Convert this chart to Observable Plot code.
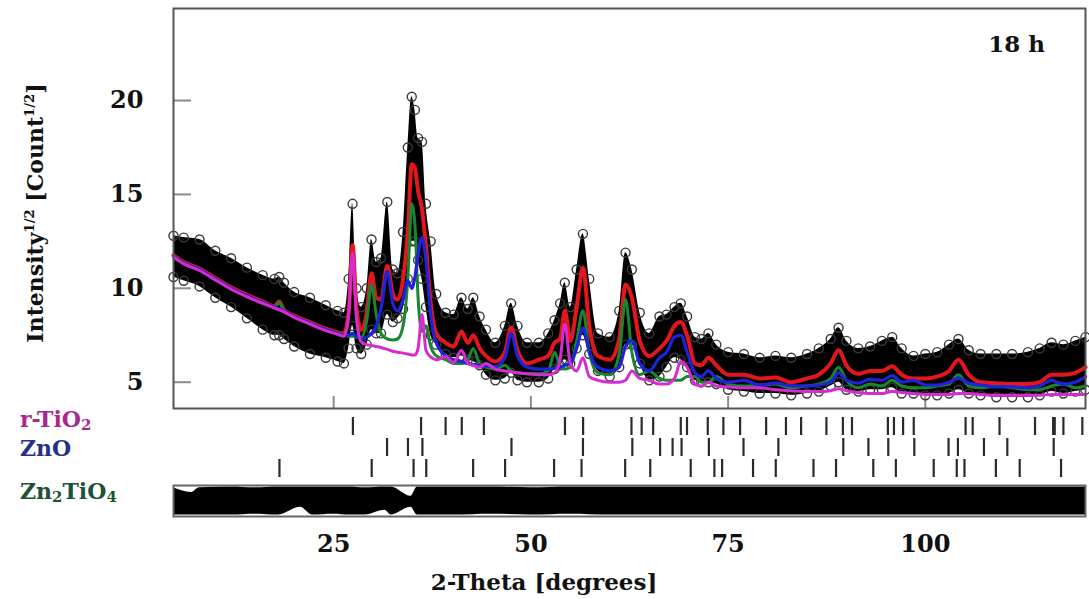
<!DOCTYPE html>
<html>
<head>
<meta charset="utf-8">
<script src="https://cdn.jsdelivr.net/npm/d3@7"></script>
<script src="https://cdn.jsdelivr.net/npm/@observablehq/plot@0.6"></script>
<style>
  html, body { margin: 0; padding: 0; background: #fff; }
  #wrap { position: relative; width: 1089px; height: 599px; overflow: hidden; font-family: "DejaVu Serif", serif; background: #fff; }
  #wrap svg { position: absolute; left: 0; overflow: visible; }
  .lab { position: absolute; white-space: nowrap; font-weight: bold; }
  .lab sub { font-size: 0.68em; vertical-align: -0.22em; line-height: 0; }
  .lab sup { font-size: 0.6em; vertical-align: 0.7em; line-height: 0; }
</style>
</head>
<body>
<div id="wrap">
  <div class="lab" id="ylab" style="left:-165px; top:198px; width:400px; line-height:30px; text-align:center; font-size:22px; color:#111; transform:rotate(-90deg);">Intensity<sup>1/2</sup> [Count<sup>1/2</sup>]</div>
  <div class="lab" id="xlab" style="left:344px; top:568px; width:400px; line-height:28px; text-align:center; font-size:23px; color:#111;">2-Theta [degrees]</div>
  <div class="lab" style="left:20px; top:408px; line-height:22px; font-size:22px; color:#a8288f;">r-TiO<sub>2</sub></div>
  <div class="lab" style="left:20px; top:437px; line-height:22px; font-size:22px; color:#22318a;">ZnO</div>
  <div class="lab" style="left:20px; top:480px; line-height:22px; font-size:22px; color:#1d5236;">Zn<sub>2</sub>TiO<sub>4</sub></div>
</div>
<script>
// ---- data ----
const twoTheta = [
  4.7, 6, 8, 10, 12, 14, 16, 17.5, 18.1, 18.7,
  20, 22, 24, 25.5, 26.3, 26.9, 27.4, 27.9, 28.5, 29.2,
  29.8, 30.4, 31.0, 31.8, 32.5, 33.1, 33.8, 34.4, 34.9, 35.3,
  35.7, 36.2, 36.7, 37.3, 38.0, 39.2, 40.2, 41.2, 42.0, 42.7,
  43.5, 44.3, 45.5, 46.7, 47.5, 48.3, 49.5, 51.0, 52.2, 53.0,
  53.7, 54.3, 55.0, 55.8, 56.6, 57.4, 58.5, 60.0, 61.2, 62.0,
  62.8, 63.8, 65.0, 66.3, 67.2, 68.2, 69.0, 69.8, 70.8, 71.6,
  72.5, 73.5, 75.0, 77.0, 79.0, 81.0, 83.0, 85.0, 86.5, 88.0,
  89.0, 90.0, 91.5, 93.0, 94.5, 95.8, 97.0, 98.5, 100.0, 101.5,
  103.0, 104.2, 105.5, 107.0, 109.0, 111.0, 113.0, 114.5, 116.0, 117.5, 119.0, 120.3
];
// observed data: upper and lower edge of the black point cloud
const obsHigh = [
  12.8, 12.7, 12.6, 12.0, 11.6, 11.1, 10.7, 10.5, 10.6, 10.3,
  9.8, 9.5, 9.1, 8.8, 8.7, 10.5, 14.5, 10.0, 9.0, 10.0,
  12.6, 11.4, 11.6, 14.6, 11.0, 10.8, 13.0, 17.5, 20.2, 19.5,
  18.0, 17.8, 14.5, 12.5, 9.7, 8.7, 8.6, 9.5, 8.9, 9.5,
  8.5, 7.8, 7.1, 8.0, 9.2, 8.0, 7.1, 7.1, 7.6, 8.3,
  9.2, 10.3, 9.0, 11.0, 12.9, 10.5, 7.6, 7.4, 8.8, 11.9,
  11.0, 8.7, 7.6, 8.5, 8.6, 9.0, 9.2, 8.5, 7.4, 7.3,
  7.6, 7.0, 6.6, 6.5, 6.3, 6.4, 6.3, 6.5, 6.8, 7.3,
  7.9, 7.2, 6.8, 6.9, 7.2, 7.4, 6.8, 6.4, 6.5, 6.6,
  7.0, 7.3, 6.7, 6.5, 6.5, 6.5, 6.6, 6.8, 7.1, 7.0, 7.2, 7.4
];
const obsLow = [
  10.6, 10.4, 10.1, 9.5, 9.0, 8.4, 7.8, 7.5, 7.5, 7.3,
  6.9, 6.5, 6.3, 6.1, 6.0, 6.8, 8.0, 6.8, 6.5, 7.0,
  7.8, 7.6, 7.6, 8.6, 8.2, 8.4, 8.9, 10.5, 12.5, 12.5,
  11.5, 10.5, 9.0, 7.5, 7.0, 6.5, 6.3, 6.4, 6.2, 6.1,
  5.9, 5.4, 5.1, 5.2, 5.5, 5.1, 5.0, 5.0, 5.2, 5.7,
  5.9, 6.2, 6.0, 6.8, 7.5, 6.5, 5.6, 5.3, 5.8, 7.0,
  7.0, 6.0, 5.1, 5.3, 5.8, 6.3, 6.2, 5.8, 5.1, 5.0,
  5.0, 4.9, 4.6, 4.5, 4.4, 4.4, 4.3, 4.4, 4.5, 4.8,
  5.0, 4.6, 4.5, 4.6, 4.6, 4.7, 4.4, 4.4, 4.3, 4.3,
  4.4, 4.6, 4.4, 4.3, 4.2, 4.2, 4.2, 4.3, 4.5, 4.4, 4.5, 4.6
];
// calculated total profile (red)
const calcTotal = [
  11.75, 11.4, 11.05, 10.55, 10.05, 9.65, 9.3, 9.05, 9.3, 8.85,
  8.55, 8.2, 7.85, 7.65, 7.6, 8.7, 12.3, 8.9, 7.8, 8.7,
  10.8, 9.5, 9.4, 11.2, 9.7, 9.4, 10.5, 13.0, 16.6, 16.4,
  15.2, 14.2, 12.2, 9.2, 7.6, 7.1, 6.9, 7.7, 7.1, 7.5,
  6.8, 6.4, 6.1, 6.6, 7.9, 6.7, 6.0, 6.2, 6.4, 7.1,
  7.3, 8.8, 7.2, 9.0, 11.1, 8.0, 6.4, 6.2, 7.3, 10.2,
  9.5, 7.2, 6.4, 6.8, 7.2, 8.0, 8.2, 7.5, 6.0, 5.9,
  6.3, 5.9, 5.4, 5.4, 5.2, 5.25, 5.0, 5.2, 5.4, 6.0,
  6.7, 5.9, 5.45, 5.6, 5.6, 5.85, 5.4, 5.2, 5.2, 5.3,
  5.6, 6.2, 5.4, 5.0, 4.95, 4.9, 4.9, 5.0, 5.4, 5.4, 5.5, 5.8
];
// Zn2TiO4 phase + background (green)
const zn2tio4Calc = [
  11.7, 11.35, 11.0, 10.5, 10.0, 9.6, 9.25, 9.0, 9.25, 8.8,
  8.5, 8.15, 7.8, 7.6, 7.5, 7.45, 7.45, 7.4, 7.4, 8.3,
  10.2, 8.6, 7.6, 7.3, 7.25, 7.3, 8.0, 10.5, 14.5, 13.4,
  9.5, 7.7, 8.0, 6.9, 6.4, 6.2, 6.0, 6.0, 6.2, 6.8,
  6.0, 5.8, 5.7, 5.9, 5.6, 5.5, 5.45, 5.45, 5.6, 6.6,
  5.9, 5.7, 5.8, 7.2, 8.8, 6.6, 5.5, 5.4, 6.5, 9.4,
  6.6, 5.4, 5.6, 5.2, 5.1, 5.1, 5.1, 5.3, 5.3, 5.0,
  5.0, 5.3, 4.9, 4.8, 4.85, 4.9, 4.7, 4.8, 4.9, 5.2,
  5.8, 5.1, 4.7, 4.9, 4.8, 5.1, 4.8, 4.7, 4.7, 4.8,
  4.9, 5.4, 4.8, 4.7, 4.8, 4.7, 4.6, 4.6, 4.8, 4.9, 4.7, 4.8
];
// ZnO phase + background (blue)
const znoCalc = [
  11.7, 11.35, 11.0, 10.5, 10.0, 9.6, 9.25, 9.0, 8.9, 8.8,
  8.5, 8.15, 7.8, 7.6, 7.5, 7.5, 7.6, 7.45, 7.3, 7.4,
  7.6, 8.0, 8.9, 10.9, 9.2, 8.8, 9.4, 10.4, 10.0, 10.6,
  11.8, 12.7, 11.5, 8.6, 7.1, 6.4, 6.2, 6.1, 6.0, 5.95,
  5.9, 5.85, 5.85, 6.3, 7.6, 6.4, 5.8, 5.7, 5.7, 5.75,
  5.8, 5.9, 6.0, 6.8, 7.9, 6.6, 5.8, 5.6, 5.8, 6.9,
  7.2, 6.0, 5.6, 6.3, 6.6, 7.4, 7.5, 6.6, 5.5, 5.3,
  5.6, 5.2, 5.0, 5.1, 4.85, 4.95, 4.8, 4.8, 4.85, 5.0,
  5.5, 5.1, 4.95, 5.15, 5.1, 5.35, 5.0, 5.1, 4.85, 4.85,
  5.0, 5.2, 4.95, 4.85, 4.75, 4.75, 4.7, 4.8, 5.1, 4.9, 5.0, 5.3
];
// rutile TiO2 phase + background (magenta)
const rutileCalc = [
  11.65, 11.3, 10.95, 10.45, 9.95, 9.55, 9.2, 8.95, 8.85, 8.75,
  8.45, 8.1, 7.75, 7.55, 7.45, 8.6, 11.9, 8.4, 7.15, 7.0,
  6.95, 6.9, 6.85, 6.75, 6.65, 6.6, 6.55, 6.5, 6.45, 6.45,
  6.8, 8.6, 6.7, 6.35, 6.2, 6.35, 6.05, 6.7, 6.0, 5.9,
  5.8, 6.0, 5.7, 5.6, 5.55, 5.5, 5.45, 5.4, 5.4, 5.5,
  6.2, 8.1, 6.0, 5.6, 6.3, 5.3, 5.1, 5.0, 5.0, 5.1,
  5.6, 5.2, 5.1, 4.9, 4.9, 5.2, 6.1, 5.8, 4.9, 4.8,
  5.0, 4.8, 4.75, 4.7, 4.7, 4.6, 4.55, 4.5, 4.5, 4.55,
  4.65, 4.55, 4.45, 4.4, 4.4, 4.5, 4.45, 4.4, 4.35, 4.35,
  4.35, 4.4, 4.4, 4.35, 4.3, 4.3, 4.3, 4.3, 4.35, 4.35, 4.35, 4.35
];
// Bragg reflection positions (2-theta, degrees)
const phaseNames = ["r-TiO2", "ZnO", "Zn2TiO4"];
const rutilePeaks = [27.44, 36.08, 39.19, 41.24, 44.04, 54.32, 56.62, 62.75, 64.04, 65.50, 69.00, 69.79, 72.42, 74.40, 76.52, 79.82, 82.33, 84.25, 87.46, 89.55, 90.70, 95.25, 96.02, 97.18, 98.53, 105.1, 106.0, 109.4, 113.9, 116.2, 116.4, 117.5, 119.9];
const znoPeaks = [31.77, 34.42, 36.25, 47.54, 56.60, 62.86, 66.38, 67.96, 69.10, 72.56, 76.95, 81.37, 89.60, 92.78, 95.30, 98.60, 102.94, 104.13, 107.43, 110.39, 116.27];
const zn2tio4Peaks = [18.13, 29.82, 35.13, 36.74, 42.68, 46.73, 52.94, 56.42, 61.95, 65.13, 70.26, 73.26, 74.24, 78.16, 81.04, 85.82, 88.68, 93.40, 96.26, 101.06, 103.98, 104.96, 108.94, 111.96, 117.2];
// difference curve band (obs - calc), upper and lower edge
const diffTheta = [4.7, 7.0, 8.0, 12, 15, 18, 20.8, 22.3, 25, 27, 29, 31.5, 32.3, 34.8, 35.6, 40, 45, 50, 55, 60, 65, 70, 75, 80, 85, 90, 95, 100, 105, 110, 115, 120.3];
const diffHigh = [0.85, 0.55, 0.85, 0.9, 0.85, 0.9, 0.9, 0.9, 0.9, 0.9, 0.85, 0.9, 0.9, 0.3, 0.9, 0.9, 0.9, 0.85, 0.9, 0.9, 0.9, 0.9, 0.9, 0.9, 0.9, 0.9, 0.9, 0.9, 0.9, 0.9, 0.9, 0.9];
const diffLow = [-0.9, -0.9, -0.9, -0.9, -0.85, -0.9, -0.4, -0.9, -0.85, -0.9, -0.9, -0.6, -0.9, -0.4, -0.9, -0.9, -0.85, -0.9, -0.85, -0.9, -0.9, -0.9, -0.9, -0.9, -0.9, -0.9, -0.9, -0.9, -0.9, -0.9, -0.9, -0.9];

const xTicks = [25, 50, 75, 100];
const yTicks = [5, 10, 15, 20];
const xDomain = [4.7, 120.3];
const yDomain = [3.6, 24.9];

// ---- build tables ----
const profile = twoTheta.map((t, i) => ({
  t, hi: obsHigh[i], lo: obsLow[i], calc: calcTotal[i],
  znt: zn2tio4Calc[i], zno: znoCalc[i], rut: rutileCalc[i]
}));
const bragg = [
  ...rutilePeaks.map(p => ({p, phase: phaseNames[0]})),
  ...znoPeaks.map(p => ({p, phase: phaseNames[1]})),
  ...zn2tio4Peaks.map(p => ({p, phase: phaseNames[2]}))
];
const diff = diffTheta.map((t, i) => ({t, hi: diffHigh[i], lo: diffLow[i]}));

const W = 1089;
const ML = 173, MR = 4;
const font = "'DejaVu Serif', serif";
const wrap = document.getElementById("wrap");

const main = Plot.plot({
  width: W, height: 412,
  marginLeft: ML, marginRight: MR, marginTop: 8, marginBottom: 4,
  x: {domain: xDomain, axis: null},
  y: {domain: yDomain},
  style: {fontFamily: font, background: "transparent", color: "#111"},
  marks: [
    Plot.tickY(yTicks, {y: d => d, insetRight: W - ML - MR - 18, stroke: "#8c8c8c", strokeWidth: 2}),
    Plot.tickX(xTicks, {x: d => d, insetTop: 400 - 12, stroke: "#8c8c8c", strokeWidth: 2}),
    Plot.areaY(profile, {x: "t", y1: "lo", y2: "hi", fill: "#000", curve: "monotone-x"}),
    Plot.dot(profile, {x: "t", y: "hi", r: 4.5, stroke: "#3a3a3a", strokeWidth: 1.4, fill: "none"}),
    Plot.dot(profile, {x: "t", y: "lo", r: 4.5, stroke: "#3a3a3a", strokeWidth: 1.4, fill: "none"}),
    Plot.line(profile, {x: "t", y: "calc", stroke: "#e3161c", strokeWidth: 4, curve: "monotone-x"}),
    Plot.line(profile, {x: "t", y: "znt", stroke: "#17862e", strokeWidth: 3, curve: "monotone-x"}),
    Plot.line(profile, {x: "t", y: "zno", stroke: "#1f22d8", strokeWidth: 3.2, curve: "monotone-x"}),
    Plot.line(profile, {x: "t", y: "rut", stroke: "#d62bd0", strokeWidth: 3, curve: "monotone-x"}),
    Plot.axisY(yTicks, {tickSize: 0, tickPadding: 30, fontSize: 24, fontWeight: "bold", fontFamily: font, fill: "#111", label: null}),
    Plot.text(["18 h"], {text: d => d, frameAnchor: "top-right", dx: -69, dy: 36, textAnchor: "middle", lineAnchor: "middle", fontSize: 23, fontWeight: "bold", fontFamily: font, fill: "#111"}),
    Plot.frame({stroke: "#555", strokeWidth: 2})
  ]
});
main.style.top = "0px";
wrap.appendChild(main);

const ticks = Plot.plot({
  width: W, height: 74,
  marginLeft: ML, marginRight: MR, marginTop: 4, marginBottom: 2,
  x: {domain: xDomain, axis: null},
  y: {domain: phaseNames, axis: null, padding: 0.16},
  style: {background: "transparent"},
  marks: [
    Plot.tickX(bragg, {x: "p", y: "phase", stroke: "#2b2b2b", strokeWidth: 2.2})
  ]
});
ticks.style.top = "409px";
wrap.appendChild(ticks);

const diffPlot = Plot.plot({
  width: W, height: 116,
  marginLeft: ML, marginRight: MR, marginTop: 2, marginBottom: 83,
  x: {domain: xDomain},
  y: {domain: [-1, 1], axis: null},
  style: {fontFamily: font, background: "transparent", color: "#111"},
  marks: [
    Plot.areaY(diff, {x: "t", y1: "lo", y2: "hi", fill: "#000", curve: "monotone-x"}),
    Plot.frame({stroke: "#666", strokeWidth: 2}),
    Plot.axisX(xTicks, {tickSize: 0, tickPadding: 18, fontSize: 24, fontWeight: "bold", fontFamily: font, fill: "#111", label: null})
  ]
});
diffPlot.style.top = "483px";
wrap.appendChild(diffPlot);
</script>
</body>
</html>
